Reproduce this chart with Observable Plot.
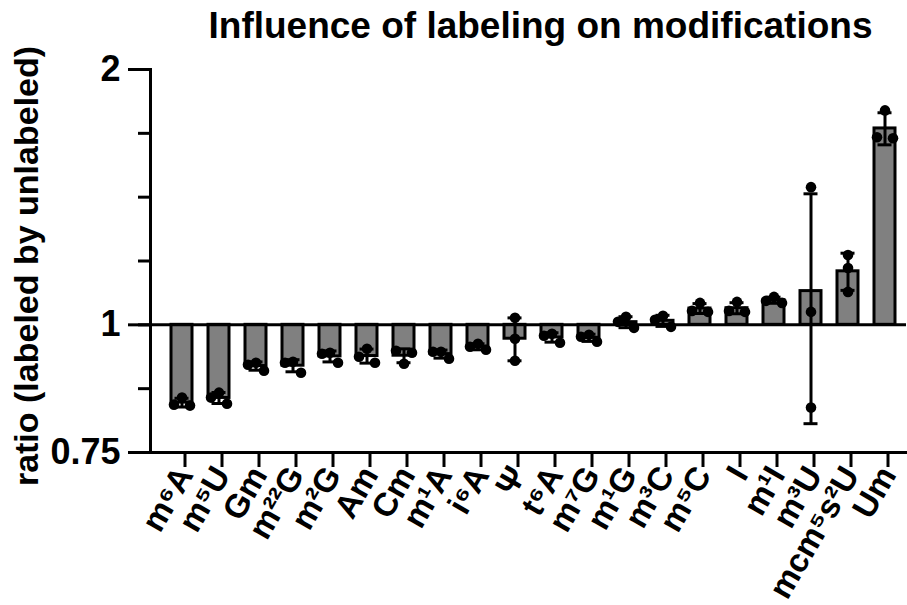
<!DOCTYPE html>
<html><head><meta charset="utf-8">
<script src="https://cdn.jsdelivr.net/npm/d3@7"></script>
<script src="https://cdn.jsdelivr.net/npm/@observablehq/plot@0.6"></script>
<style>body{margin:0;background:#fff}</style>
</head><body><div id="chart"></div>
<script>
const titleText = "Influence of labeling on modifications";
const yLabelText = "ratio (labeled by unlabeled)";
const categories = ["m⁶A","m⁵U","Gm","m²²G","m²G","Am","Cm","m¹A","i⁶A","Ψ","t⁶A","m⁷G","m¹G","m³C","m⁵C","I","m¹I","m³U","mcm⁵s²U","Um"];
const rep1 = [0.8031,0.8318,0.8829,0.8781,0.9022,0.9022,0.8998,0.9120,0.9345,1.0191,0.9525,0.9550,0.9919,0.9946,1.0614,1.0643,1.0614,1.4531,1.2087,1.7899];
const rep2 = [0.8207,0.8074,0.9022,0.9047,0.9270,0.9371,0.9320,0.9295,0.9499,0.9628,0.9759,0.9733,1.0219,1.0247,1.0386,1.0358,1.0788,1.0358,1.1669,1.6592];
const rep3 = [0.8052,0.8207,0.8974,0.9022,0.9245,0.9170,0.9270,0.9295,0.9422,0.9071,0.9707,0.9680,1.0081,1.0136,1.0358,1.0386,1.0672,0.7988,1.0935,1.6637];
const yDomain = [Math.SQRT1_2, 2];
const yMajorTicks = [Math.SQRT1_2, 1, 2];
const yMajorLabels = ["0.75", "1", "2"];
const yMinorTicks = d3.range(-2, 5).map(k => 2 ** (k / 4));

const W = 907, H = 605, MT = 69, MB = 153, ML = 150, MR = 1;
const pxPerLog2 = (H - MT - MB) / (Math.log2(yDomain[1]) - Math.log2(yDomain[0]));

const stats = categories.map((c, i) => {
  const vals = [rep1[i], rep2[i], rep3[i]];
  const mean = d3.mean(vals), sd = d3.deviation(vals);
  return {name: c, mean, lo: mean - sd, hi: mean + sd};
});

const points = [];
categories.forEach((c, i) => {
  const pts = [rep1[i], rep2[i], rep3[i]].map(v => ({name: c, value: v, col: 0}));
  pts.sort((a, b) => b.value - a.value);
  const clusters = [];
  pts.forEach((p, j) => {
    if (j > 0 && (Math.log2(pts[j - 1].value) - Math.log2(p.value)) * pxPerLog2 < 10) clusters[clusters.length - 1].push(p);
    else clusters.push([p]);
  });
  clusters.forEach(cl => {
    const cols = cl.length === 1 ? [0] : cl.length === 2 ? [-1, 1] : [0, -1, 1];
    cl.forEach((p, k) => p.col = cols[k]);
  });
  points.push(...pts);
});

const chart = Plot.plot({
  width: W, height: H, marginTop: MT, marginRight: MR, marginBottom: MB, marginLeft: ML,
  style: {fontFamily: "'Liberation Sans', Arial, sans-serif", fontWeight: "bold", color: "black", background: "white"},
  x: {domain: categories, paddingInner: 0.44, paddingOuter: 0.27, align: 0.66},
  y: {type: "log", base: 2, domain: yDomain},
  marks: [
    Plot.barY(stats, {x: "name", y1: 1, y2: "mean", fill: "#808080", stroke: "black", strokeWidth: 3}),
    Plot.ruleY([1], {strokeWidth: 3}),
    Plot.ruleX(stats, {x: "name", y1: "lo", y2: "hi", strokeWidth: 3}),
    Plot.tickY(stats, {x: "name", y: "lo", strokeWidth: 3, insetLeft: 3.5, insetRight: 3.5}),
    Plot.tickY(stats, {x: "name", y: "hi", strokeWidth: 3, insetLeft: 3.5, insetRight: 3.5}),
    ...[-1, 0, 1].map(c => Plot.dot(points.filter(p => p.col === c), {x: "name", y: "value", r: 5.3, fill: "black", dx: c * 8})),
    Plot.frame({anchor: "left", strokeWidth: 3}),
    Plot.frame({anchor: "bottom", strokeWidth: 3}),
    Plot.axisY({ticks: yMinorTicks, tickSize: 12, tickFormat: () => "", strokeWidth: 3, label: null}),
    Plot.axisY({ticks: yMajorTicks, tickSize: 22, tickPadding: 8, tickFormat: d => yMajorLabels[yMajorTicks.indexOf(d)], fontSize: 36, strokeWidth: 3, label: null}),
    Plot.axisX({tickSize: 15, tickRotate: -60, fontSize: 33, strokeWidth: 3, tickPadding: 2, dx: 3, label: null}),
    Plot.text([titleText], {frameAnchor: "top", lineAnchor: "middle", dy: -43, dx: 12, fontSize: 37}),
    Plot.text([yLabelText], {frameAnchor: "left", textAnchor: "middle", lineAnchor: "middle", dx: -123, dy: 5, rotate: -90, fontSize: 34})
  ]
});
document.getElementById("chart").append(chart);
</script>
</body></html>
